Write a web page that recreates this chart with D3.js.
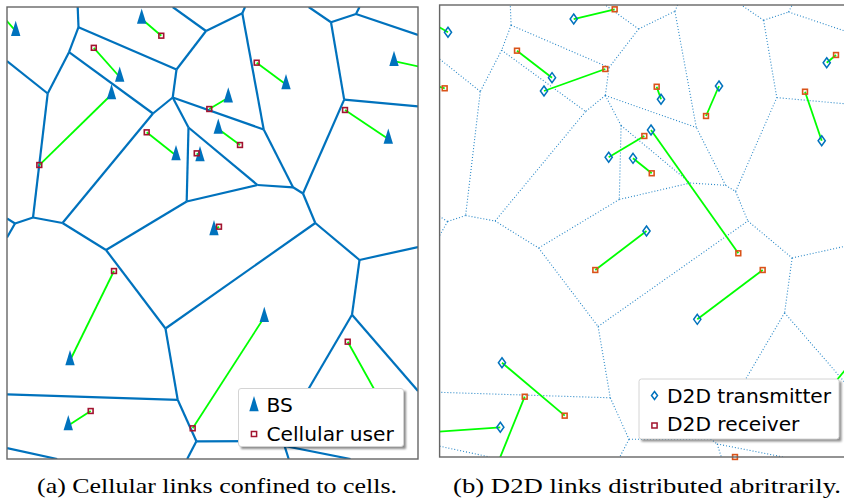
<!DOCTYPE html>
<html>
<head>
<meta charset="utf-8">
<script src="https://cdn.jsdelivr.net/npm/d3@7/dist/d3.min.js"></script>
<style>
  body { margin: 0; background: #fff; }
</style>
</head>
<body>
<div id="fig"></div>
<script>
// cell boundary vertices (x, y in 0..100 area units); the last ones sit on the frame
var cellVertices = [
  [17.40, 95.53], [15.09, 90.00], [41.24, 86.17], [48.42, 94.69], [57.25, 98.61],
  [62.46, 72.90], [40.32, 79.98], [44.16, 73.34], [35.52, 76.44], [9.90, 80.86],
  [6.33, 53.43], [13.50, 52.21], [1.95, 52.10], [43.72, 56.97], [60.95, 60.62],
  [69.59, 60.11], [72.02, 58.74], [24.09, 46.24], [38.56, 28.87], [75.01, 52.21],
  [85.77, 44.03], [83.94, 31.90], [41.53, 13.10], [46.08, 3.92], [78.83, 96.62],
  [84.91, 98.45], [82.04, 79.51], [65.94, 3.98], [67.54, 2.88],
  [17.20, 100], [0, 88.05], [40.32, 100], [57.91, 100], [73.41, 100],
  [85.77, 100], [100, 93.81], [100, 78.03], [100, 46.90], [100, 15.04],
  [0, 53.21], [0, 49.00], [0, 14.31], [43.84, 0], [68.54, 0], [83.58, 0],
  [0, 2.39], [12.21, 0]
]
// pairs of vertex indices
var cellEdges = [
  [0, 29], [0, 1], [0, 2], [2, 3], [3, 31], [3, 4], [4, 32], [4, 5], [2, 6], [6, 5],
  [6, 7], [6, 8], [1, 8], [1, 9], [9, 30], [9, 10], [8, 11], [10, 11], [10, 12],
  [12, 39], [12, 40], [7, 13], [7, 14], [13, 14], [11, 17], [13, 17], [17, 18],
  [18, 19], [14, 15], [15, 5], [15, 16], [16, 26], [16, 19], [19, 20], [20, 37],
  [20, 21], [21, 38], [21, 27], [18, 22], [22, 41], [22, 23], [23, 42], [23, 27],
  [27, 28], [28, 43], [28, 44], [45, 46], [24, 33], [24, 25], [25, 34], [25, 35],
  [24, 26], [26, 36]
]

// base stations
var bsX = [2.12, 32.77, 27.42, 25.43, 41.12, 46.96, 50.36, 53.84, 67.88, 94.16, 92.77, 51.41, 15.33, 14.91, 62.60, 91.48]
var bsY = [94.65, 97.35, 84.51, 80.64, 67.15, 66.92, 50.55, 79.91, 82.85, 88.01, 70.80, 73.01, 21.79, 7.41, 31.37, 11.95]

// cellular users and the BS serving each one
var userX = [37.54, 21.12, 7.86, 49.22, 33.99, 46.16, 60.75, 56.69, 82.24, 51.58, 26.03, 20.36, 45.18, 82.90, -1.70, 102.92]
var userY = [93.65, 90.97, 65.04, 77.43, 72.28, 67.63, 87.68, 69.47, 77.21, 51.39, 41.59, 10.62, 6.79, 25.95, 98.67, 86.28]
var userBS = [1, 2, 3, 7, 4, 5, 8, 11, 10, 6, 12, 13, 14, 15, 0, 9]

// D2D pairs: transmitter i talks to receiver i
var txX = [2.04, -2.34, 32.63, 27.35, 25.40, 41.14, 47.06, 53.87, 67.98, 51.44, 94.19, 92.97, 50.34, 62.70, 15.18, 13.48, 14.77, 72.60, 101.31]
var txY = [93.96, 82.52, 96.90, 83.92, 80.97, 66.31, 66.08, 79.14, 82.08, 72.35, 87.23, 69.98, 50.00, 30.46, 20.86, -2.88, 6.57, -2.88, 22.12]
var rxX = [-1.85, 1.24, 42.60, 18.83, 40.32, 49.81, 51.61, 52.82, 64.82, 72.68, 96.45, 88.91, 37.88, 78.61, 30.44, 20.71, -3.55, 71.87, 90.61]
var rxY = [96.02, 81.57, 99.05, 89.89, 85.84, 71.02, 62.77, 81.92, 75.44, 45.07, 88.94, 80.82, 41.37, 41.37, 9.14, 13.34, 5.42, 0.0, 10.40]

var captions = ["(a) Cellular links confined to cells.", "(b) D2D links distributed abritrarily."]

var blue = "#0072BD", green = "#00FF00", userRed = "#A2142F", rxOrange = "#D95319"
var triPath = "M0,-10.5L4.7,4.8L-4.7,4.8Z"
var diamondPath = "M0,-5L3.6,0L0,5L-3.6,0Z"

var svg = d3.select("#fig").append("svg")
    .attr("width", 844)
    .attr("height", 499)
    .style("font-family", "'DejaVu Sans', sans-serif")

var defs = svg.append("defs")
defs.append("filter").attr("id", "shadow")
    .attr("x", "-10%").attr("y", "-10%").attr("width", "130%").attr("height", "140%")
  .append("feGaussianBlur").attr("stdDeviation", 1.3)

function makePanel(id, left, right, top, bottom) {
    var x = d3.scaleLinear().domain([0, 100]).range([left, right])
    var y = d3.scaleLinear().domain([0, 100]).range([bottom, top])
    defs.append("clipPath").attr("id", id)
      .append("rect")
        .attr("x", left).attr("y", top)
        .attr("width", right - left).attr("height", bottom - top)
    var g = svg.append("g")
    return { x: x, y: y, g: g, clip: "url(#" + id + ")", left: left, right: right, top: top, bottom: bottom }
}

function inside(px, py) { return px >= 0 && px <= 100 && py >= 0 && py <= 100 }

function drawCells(p, dotted) {
    p.g.append("g")
        .attr("clip-path", p.clip)
        .selectAll("line")
        .data(cellEdges)
        .join("line")
        .attr("x1", d => p.x(cellVertices[d[0]][0]))
        .attr("y1", d => p.y(cellVertices[d[0]][1]))
        .attr("x2", d => p.x(cellVertices[d[1]][0]))
        .attr("y2", d => p.y(cellVertices[d[1]][1]))
        .attr("stroke", blue)
        .attr("stroke-width", dotted ? 1.1 : 2.2)
        .attr("stroke-dasharray", dotted ? "1,2" : null)
        .attr("opacity", dotted ? 0.85 : 1)
}

function drawFrame(p) {
    svg.append("rect")
        .attr("x", p.left).attr("y", p.top)
        .attr("width", p.right - p.left).attr("height", p.bottom - p.top)
        .attr("fill", "none")
        .attr("stroke", "#666")
        .attr("stroke-width", 1.4)
}

function drawLegend(box, items) {
    var lg = svg.append("g")
    lg.append("rect")
        .attr("x", box[0] + 2.5).attr("y", box[1] + 2.5)
        .attr("width", box[2]).attr("height", box[3])
        .attr("fill", "#000").attr("opacity", 0.45)
        .attr("filter", "url(#shadow)")
    lg.append("rect")
        .attr("x", box[0]).attr("y", box[1])
        .attr("width", box[2]).attr("height", box[3])
        .attr("rx", 2.5)
        .attr("fill", "#fff")
        .attr("stroke", "#d4d4d4")
    items.forEach(function (it, i) {
        var cy = box[1] + 17 + i * 28.5
        var m = lg.append("path")
            .attr("d", it.shape)
            .attr("transform", "translate(" + (box[0] + 15.5) + "," + (cy + it.dy) + ")")
        if (it.filled) m.attr("fill", it.color)
        else m.attr("fill", "none").attr("stroke", it.color).attr("stroke-width", 1.5)
        lg.append("text")
            .attr("x", box[0] + 28)
            .attr("y", cy + 6.8)
            .attr("font-size", 20.2)
            .attr("fill", "#000")
            .text(it.label)
    })
}

// ---------- (a) cellular ----------
var A = makePanel("clipA", 7, 418, 7, 459)
drawCells(A, false)

A.g.append("g")
    .attr("clip-path", A.clip)
    .selectAll("line")
    .data(userX.map((d, i) => i))
    .join("line")
    .attr("x1", i => A.x(userX[i]))
    .attr("y1", i => A.y(userY[i]))
    .attr("x2", i => A.x(bsX[userBS[i]]))
    .attr("y2", i => A.y(bsY[userBS[i]]))
    .attr("stroke", green)
    .attr("stroke-width", 1.8)

A.g.append("g")
    .selectAll("path")
    .data(bsX.map((d, i) => i).filter(i => inside(bsX[i], bsY[i])))
    .join("path")
    .attr("d", triPath)
    .attr("transform", i => "translate(" + A.x(bsX[i]) + "," + A.y(bsY[i]) + ")")
    .attr("fill", blue)

A.g.append("g")
    .selectAll("rect")
    .data(userX.map((d, i) => i).filter(i => inside(userX[i], userY[i])))
    .join("rect")
    .attr("x", i => A.x(userX[i]) - 2.4)
    .attr("y", i => A.y(userY[i]) - 2.4)
    .attr("width", 4.8)
    .attr("height", 4.8)
    .attr("fill", "none")
    .attr("stroke", userRed)
    .attr("stroke-width", 1.6)

drawFrame(A)
drawLegend([238.5, 388.5, 165, 58], [
    { label: "BS", shape: triPath, color: blue, filled: true, dy: 1 },
    { label: "Cellular user", shape: "M-2.6,-2.6h5.2v5.2h-5.2Z", color: userRed, filled: false, dy: 0 }
])

// ---------- (b) D2D ----------
var B = makePanel("clipB", 439.6, 850.6, 5, 457)
drawCells(B, true)

var pairIdx = txX.map((d, i) => i)

B.g.append("g")
    .attr("clip-path", B.clip)
    .selectAll("line")
    .data(pairIdx)
    .join("line")
    .attr("x1", i => B.x(txX[i]))
    .attr("y1", i => B.y(txY[i]))
    .attr("x2", i => B.x(rxX[i]))
    .attr("y2", i => B.y(rxY[i]))
    .attr("stroke", green)
    .attr("stroke-width", 1.8)

B.g.append("g")
    .selectAll("path")
    .data(pairIdx.filter(i => inside(txX[i], txY[i])))
    .join("path")
    .attr("d", diamondPath)
    .attr("transform", i => "translate(" + B.x(txX[i]) + "," + B.y(txY[i]) + ")")
    .attr("fill", "none")
    .attr("stroke", blue)
    .attr("stroke-width", 1.5)

B.g.append("g")
    .selectAll("rect")
    .data(pairIdx.filter(i => inside(rxX[i], rxY[i])))
    .join("rect")
    .attr("x", i => B.x(rxX[i]) - 2.4)
    .attr("y", i => B.y(rxY[i]) - 2.4)
    .attr("width", 4.8)
    .attr("height", 4.8)
    .attr("fill", "none")
    .attr("stroke", rxOrange)
    .attr("stroke-width", 1.6)

drawFrame(B)
drawLegend([639, 379, 200, 60], [
    { label: "D2D transmitter", shape: "M0,-4L3,0L0,4L-3,0Z", color: blue, filled: false, dy: -0.5 },
    { label: "D2D receiver", shape: "M-2.6,-2.6h5.2v5.2h-5.2Z", color: userRed, filled: false, dy: 1 }
])

// captions
svg.selectAll(".caption")
    .data(captions)
    .join("text")
    .attr("class", "caption")
    .attr("x", (d, i) => i === 0 ? 217 : 647)
    .attr("y", 493)
    .attr("text-anchor", "middle")
    .attr("textLength", (d, i) => i === 0 ? 360 : 388)
    .attr("lengthAdjust", "spacingAndGlyphs")
    .style("font-family", "'Liberation Serif', serif")
    .attr("font-size", 21)
    .attr("fill", "#000")
    .text(d => d)
</script>
</body>
</html>
